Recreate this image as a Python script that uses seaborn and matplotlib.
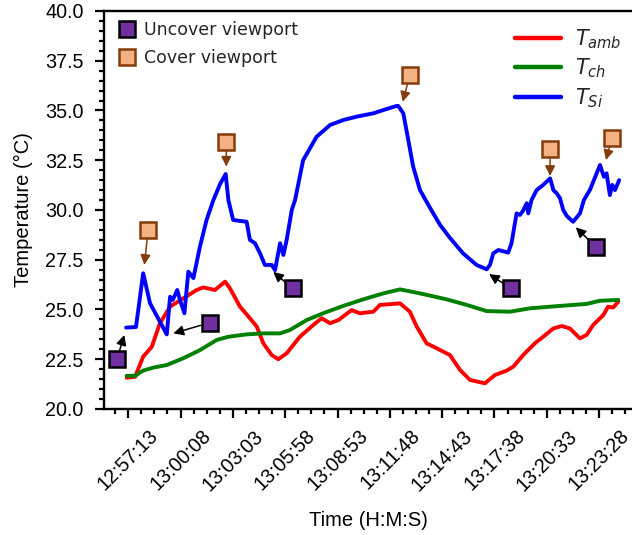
import numpy as np
import pandas as pd
import matplotlib
matplotlib.use("Agg")
import matplotlib.pyplot as plt
import seaborn as sns
from matplotlib.lines import Line2D
from matplotlib.ticker import FuncFormatter, FixedLocator

# Time axis: seconds relative to 12:57:13, labelled ticks every 175 s
T_REF = 12 * 3600 + 57 * 60 + 13
TICK_STEP = 175

# Silicon temperature T_Si
t_si = [-7, 26, 50, 73, 129, 140, 149, 164, 173, 188, 201, 218, 240, 262, 285, 307,
        326, 335, 351, 374, 396, 407, 424, 441, 457, 480, 491, 508, 519, 530, 547, 558,
        585, 630, 675, 719, 764, 820, 859, 898, 903, 920, 937, 953, 976, 1004, 1043,
        1076, 1120, 1165, 1199, 1210, 1221, 1238, 1271, 1282, 1299, 1310, 1320, 1333,
        1338, 1349, 1366, 1388, 1411, 1422, 1433, 1444, 1455, 1467, 1488, 1511, 1524,
        1544, 1578, 1591, 1600, 1611, 1619, 1628, 1642]
temp_si = [24.09, 24.12, 26.82, 25.31, 23.75, 25.64, 25.48, 25.98, 25.48, 24.81, 26.90,
           26.58, 28.16, 29.50, 30.50, 31.30, 31.81, 30.50, 29.50, 29.45, 29.41, 28.50,
           28.33, 27.82, 27.24, 27.24, 26.98, 28.33, 27.74, 28.50, 30.00, 30.50, 32.50,
           33.68, 34.27, 34.52, 34.69, 34.86, 35.05, 35.23, 35.23, 34.86, 33.50, 32.18,
           31.00, 30.25, 29.25, 28.60, 27.82, 27.24, 27.02, 27.24, 27.82, 27.99, 27.86,
           28.33, 29.83, 29.75, 29.95, 30.34, 29.83, 30.50, 31.00, 31.26, 31.59, 31.00,
           30.84, 30.60, 30.00, 29.70, 29.41, 29.83, 30.50, 31.00, 32.26, 31.67, 31.84,
           30.75, 31.26, 31.00, 31.50]

# Ambient temperature T_amb
t_amb = [-5, 23, 50, 79, 106, 140, 184, 229, 251, 290, 324, 340, 374, 407, 430, 452,
         480, 502, 530, 574, 619, 647, 675, 703, 747, 775, 820, 842, 886, 909, 942, 965,
         998, 1032, 1076, 1110, 1143, 1193, 1227, 1266, 1288, 1321, 1360, 1388, 1422,
         1450, 1477, 1511, 1533, 1555, 1589, 1605, 1622, 1639]
temp_amb = [21.57, 21.62, 22.63, 23.13, 24.31, 25.14, 25.56, 25.98, 26.11, 25.98, 26.40,
            26.07, 25.14, 24.56, 24.14, 23.30, 22.71, 22.50, 22.80, 23.63, 24.22, 24.56,
            24.31, 24.47, 24.97, 24.81, 24.89, 25.23, 25.28, 25.31, 24.89, 24.14, 23.30,
            23.05, 22.71, 21.96, 21.46, 21.29, 21.71, 21.93, 22.13, 22.71, 23.30, 23.63,
            24.05, 24.17, 24.05, 23.55, 23.72, 24.22, 24.72, 25.14, 25.10, 25.39]

# Chamber temperature T_ch
t_ch = [-5, 23, 50, 84, 129, 184, 240, 296, 335, 396, 452, 508, 541, 597, 652, 719,
        786, 853, 909, 976, 1065, 1132, 1199, 1277, 1344, 1444, 1533, 1578, 1639]
temp_ch = [21.67, 21.67, 21.93, 22.08, 22.21, 22.55, 22.96, 23.47, 23.63, 23.75, 23.80,
           23.80, 23.97, 24.47, 24.81, 25.18, 25.51, 25.81, 26.01, 25.81, 25.51, 25.23,
           24.92, 24.89, 25.06, 25.18, 25.28, 25.44, 25.48]

series_labels = ["$T_{amb}$", "$T_{ch}$", "$T_{Si}$"]
series_colors = ["#ff0000", "#008000", "#0000ff"]

# Viewport events: square position and the point on the curve it refers to
uncover_t = [-38, 273, 550, 1280, 1563]
uncover_temp = [22.50, 24.34, 26.06, 26.06, 28.16]
uncover_tip_t = [-13, 151, 485, 1207, 1497]
uncover_tip_temp = [23.72, 23.80, 26.89, 26.78, 29.13]

cover_t = [67, 328, 942, 1411, 1617]
cover_temp = [29.02, 33.43, 36.78, 33.05, 33.60]
cover_tip_t = [54, 328, 918, 1411, 1598]
cover_tip_temp = [27.24, 32.18, 35.44, 31.71, 32.51]

event_labels = ["Uncover viewport", "Cover viewport"]

sns.set_theme(style="ticks")
plt.rcParams["font.family"] = ["Liberation Sans", "DejaVu Sans"]
plt.rcParams["mathtext.fontset"] = "dejavusans"

df = pd.concat([
    pd.DataFrame({"time": t_amb, "temp": temp_amb, "sensor": series_labels[0]}),
    pd.DataFrame({"time": t_ch, "temp": temp_ch, "sensor": series_labels[1]}),
    pd.DataFrame({"time": t_si, "temp": temp_si, "sensor": series_labels[2]}),
], ignore_index=True)

fig = plt.figure(figsize=(6.32, 5.35), dpi=100)
ax = fig.add_axes([104 / 632, 1 - 409 / 535, 528 / 632, 398 / 535])

sns.lineplot(data=df, x="time", y="temp", hue="sensor", hue_order=series_labels,
             palette=dict(zip(series_labels, series_colors)), estimator=None,
             sort=False, lw=2.8, legend=False, ax=ax, zorder=2)

# Event markers with arrows pointing at the curve
purple, purple_edge = "#7030a0", "#000000"
peach, peach_edge = "#f4b183", "#843c0c"
MS = 12
for xs, ys, txs, tys, col in [
    (uncover_t, uncover_temp, uncover_tip_t, uncover_tip_temp, "black"),
    (cover_t, cover_temp, cover_tip_t, cover_tip_temp, peach_edge),
]:
    for x0, y0, x1, y1 in zip(xs, ys, txs, tys):
        ax.annotate("", xy=(x1, y1), xytext=(x0, y0),
                    arrowprops=dict(arrowstyle="-|>", color=col, lw=1.1,
                                    shrinkA=7, shrinkB=0, mutation_scale=15),
                    zorder=3)
ax.plot(uncover_t, uncover_temp, "s", ms=MS, mfc=purple, mec=purple_edge, mew=1.8, zorder=4)
ax.plot(cover_t, cover_temp, "s", ms=MS, mfc=peach, mec=peach_edge, mew=1.8, zorder=4)

# Axes styling
ax.set_xlim(-81, 1685)
ax.set_ylim(20, 40)
ax.xaxis.set_major_locator(FixedLocator(np.arange(0, 1700, TICK_STEP)))
ax.xaxis.set_minor_locator(FixedLocator(np.arange(-87.5, 1700, TICK_STEP / 4)))
ax.yaxis.set_major_locator(FixedLocator(np.arange(20, 40.01, 2.5)))
ax.yaxis.set_minor_locator(FixedLocator(np.arange(20, 40.01, 0.5)))


def hms(v, pos=None):
    s = int(round(T_REF + v))
    return f"{s // 3600:02d}:{(s % 3600) // 60:02d}:{s % 60:02d}"


ax.xaxis.set_major_formatter(FuncFormatter(hms))
ax.yaxis.set_major_formatter(FuncFormatter(lambda v, p: f"{v:.1f}"))
ax.tick_params(axis="both", which="major", length=6.5, width=1.6, labelsize=14.2,
               color="black", labelcolor="black")
ax.tick_params(axis="x", which="major", pad=6)
ax.tick_params(axis="y", which="major", pad=8)
ax.tick_params(axis="both", which="minor", length=3.5, width=1.6, color="black")
for lab in ax.get_xticklabels():
    lab.set_rotation(45)
    lab.set_ha("center")
for side in ["left", "bottom", "top"]:
    ax.spines[side].set_linewidth(1.7)
    ax.spines[side].set_color("black")
ax.spines["right"].set_visible(False)

ax.set_xlabel("Time (H:M:S)", fontsize=14.5, labelpad=12, color="black")
ax.set_ylabel("Temperature (°C)", fontsize=14.5, labelpad=9, color="black")

# Legends
event_handles = [
    Line2D([], [], ls="", marker="s", ms=MS, mfc=purple, mec=purple_edge, mew=1.8),
    Line2D([], [], ls="", marker="s", ms=MS, mfc=peach, mec=peach_edge, mew=1.8),
]
leg1 = ax.legend(event_handles, event_labels, loc="upper left",
                 bbox_to_anchor=(0.024, 0.975), frameon=False, borderpad=0,
                 borderaxespad=0, handlelength=1.2, handletextpad=0.4,
                 labelspacing=0.6, prop={"family": "DejaVu Sans", "size": 12.5})
ax.add_artist(leg1)

line_handles = [Line2D([], [], color=c, lw=3.2) for c in series_colors]
ax.legend(line_handles, series_labels, loc="upper left",
          bbox_to_anchor=(0.778, 0.96), frameon=False, borderpad=0,
          borderaxespad=0, handlelength=2.2, handletextpad=0.7,
          labelspacing=0.3, prop={"family": "DejaVu Sans", "size": 15})

fig.savefig("out.png", dpi=100)
